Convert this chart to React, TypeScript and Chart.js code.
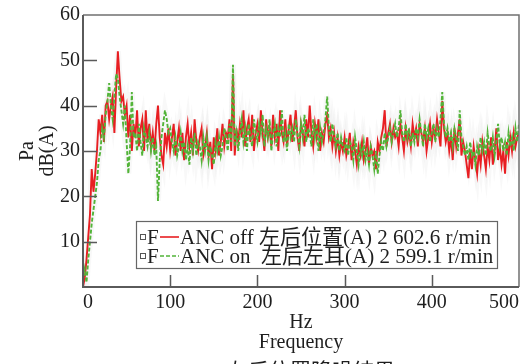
import React, { useEffect, useRef } from 'react';
import { Chart, registerables } from 'chart.js';

Chart.register(...registerables);

// ---- data ----
const X_TICKS = [0, 100, 200, 300, 400, 500];
const Y_TICKS = [10, 20, 30, 40, 50, 60];
const FREQ_STEP_HZ = 2; // sampling grid of the spectra (0..500 Hz)

// ANC off, 左后位置 (red, solid)
const ancOff = [
  0, 2, 6, 11, 16, 26, 21, 25, 30, 37,
  34, 38, 32, 40, 41, 37, 40, 42, 34, 44,
  52, 46, 41, 42, 38, 40, 33, 38, 30, 36,
  33, 39, 31, 35, 37, 30, 39, 32, 36, 31,
  34, 30, 36, 40, 33, 29, 27, 34, 31, 35,
  30, 33, 36, 29, 32, 35, 30, 34, 28, 33,
  36, 31, 34, 29, 37, 32, 30, 33, 35, 29,
  31, 34, 29, 32, 26, 33, 30, 35, 29, 32,
  36, 31, 34, 33, 37, 30, 47, 29, 35, 32,
  36, 33, 39, 31, 35, 37, 32, 38, 30, 34,
  36, 32, 39, 34, 30, 37, 33, 35, 31, 38,
  33, 36, 30, 39, 34, 32, 37, 31, 35, 38,
  32, 35, 39, 33, 30, 36, 34, 31, 37, 33,
  40, 34, 31, 36, 33, 37, 30, 34, 32, 36,
  38, 33, 35, 31, 34, 30, 33, 29, 32, 30,
  33, 29, 31, 34, 28, 32, 30, 27, 31, 29,
  32, 28, 30, 33, 27, 31, 29, 30, 26, 32,
  30, 33, 35, 39, 31, 34, 36, 32, 35, 33,
  34, 31, 36, 33, 30, 35, 32, 34, 31, 36,
  33, 35, 31, 36, 34, 32, 35, 30, 33, 36,
  32, 35, 33, 37, 34, 31, 41, 35, 32, 34,
  30, 33, 28, 35, 31, 34, 37, 29, 32, 30,
  27, 24, 30, 26, 31, 28, 25, 30, 27, 32,
  29, 26, 31, 28, 33, 27, 30, 35, 28, 31,
  27, 30, 25, 32, 29, 33, 30, 34, 31, 33,
  34,
];

// ANC on, 左后左耳 (green, dashed)
const ancOn = [
  2, 4, 1, 6, 10, 14, 17, 20, 23, 28,
  30, 35, 33, 38, 41, 45, 40, 37, 42, 47,
  46, 42, 39, 36, 40, 32, 25, 31, 43, 33,
  34, 30, 36, 32, 29, 35, 33, 31, 34, 30,
  33, 29, 31, 19, 28, 33, 36, 39, 37, 34,
  35, 32, 30, 33, 29, 31, 34, 30, 32, 28,
  31, 27, 33, 30, 34, 29, 32, 31, 28, 33,
  30, 33, 28, 31, 29, 27, 32, 30, 33, 29,
  31, 35, 33, 30, 36, 32, 49, 31, 34, 30,
  34, 37, 32, 35, 30, 36, 33, 31, 37, 34,
  32, 36, 34, 38, 31, 35, 33, 37, 30, 34,
  36, 31, 35, 33, 39, 32, 34, 30, 36, 33,
  35, 32, 37, 34, 31, 36, 33, 38, 32, 35,
  34, 31, 37, 33, 36, 30, 35, 32, 34, 37,
  42, 35, 32, 36, 33, 31, 34, 30, 33, 31,
  30, 33, 29, 32, 31, 28, 33, 30, 27, 31,
  29, 32, 28, 30, 27, 31, 29, 26, 30, 25,
  29, 32, 30, 34, 31, 33, 35, 32, 34, 36,
  33, 35, 39, 34, 32, 36, 33, 35, 31, 34,
  32, 35, 33, 37, 34, 31, 36, 33, 35, 32,
  34, 36, 32, 35, 33, 37, 43, 36, 33, 35,
  32, 34, 31, 35, 33, 30, 39, 33, 31, 29,
  31, 28, 32, 29, 30, 27, 31, 29, 33, 30,
  32, 29, 34, 31, 30, 33, 29, 32, 36, 31,
  33, 30, 32, 29, 34, 31, 33, 30, 35, 32,
  36,
];

const LEGEND_LABELS = [
  'ANC off 左后位置(A) 2 602.6 r/min',
  'ANC on  左后左耳(A) 2 599.1 r/min',
];
const LEGEND_PREFIX = 'F';
const X_TITLE = ['Hz', 'Frequency'];
const Y_TITLE = ['Pa', 'dB(A)'];
const CAPTION = '左后位置降噪结果';

const RED = 'rgb(232, 30, 34)';
const GREEN = 'rgb(82, 180, 56)';
const HALO = 'rgba(232, 232, 232, 0.3)';
const AXIS = '#5a5a5a';
const TEXT = '#1e1e1e';
const FONT_FAMILY = '"Liberation Serif", "Times New Roman", "Noto Sans CJK SC", serif';

const toPoints = (vals: number[]) => vals.map((v, i) => ({ x: i * FREQ_STEP_HZ, y: v }));

const decorPlugin = {
  id: 'decor',
  afterDraw(chart: any) {
    const { ctx, chartArea } = chart;
    const { left, right, top, bottom } = chartArea;
    const xs = chart.scales.x;
    const ys = chart.scales.y;
    ctx.save();
    // frame
    ctx.strokeStyle = '#707070';
    ctx.lineWidth = 1.5;
    ctx.beginPath();
    ctx.moveTo(left, top);
    ctx.lineTo(right, top);
    ctx.lineTo(right, bottom);
    ctx.stroke();
    ctx.strokeStyle = AXIS;
    ctx.lineWidth = 2;
    ctx.beginPath();
    ctx.moveTo(left, top);
    ctx.lineTo(left, bottom);
    ctx.lineTo(right, bottom);
    ctx.stroke();
    // inward ticks
    ctx.lineWidth = 1.5;
    ctx.strokeStyle = AXIS;
    ctx.beginPath();
    Y_TICKS.forEach((v) => {
      if (v >= 60) return;
      const y = Math.round(ys.getPixelForValue(v)) + 0.5;
      ctx.moveTo(left, y);
      ctx.lineTo(left + 14, y);
    });
    X_TICKS.forEach((v) => {
      if (v <= 0 || v >= 500) return;
      const x = Math.round(xs.getPixelForValue(v)) + 0.5;
      ctx.moveTo(x, bottom);
      ctx.lineTo(x, bottom - 12);
    });
    ctx.stroke();

    // legend box
    const bx = 136, by = 221, bw = 361, bh = 47;
    ctx.fillStyle = '#ffffff';
    ctx.fillRect(bx, by, bw, bh);
    ctx.strokeStyle = '#666666';
    ctx.lineWidth = 1.2;
    ctx.strokeRect(bx + 0.5, by + 0.5, bw, bh);
    const rows = [
      { y: 237, color: RED, dash: [] as number[] },
      { y: 256, color: GREEN, dash: [4, 2] },
    ];
    ctx.font = '21px ' + FONT_FAMILY;
    ctx.textBaseline = 'middle';
    ctx.textAlign = 'left';
    rows.forEach((r, i) => {
      ctx.strokeStyle = '#555';
      ctx.lineWidth = 1;
      ctx.setLineDash([]);
      ctx.strokeRect(140.5, r.y - 2.5, 5, 5);
      ctx.fillStyle = TEXT;
      ctx.fillText(LEGEND_PREFIX, 147, r.y + 1);
      ctx.strokeStyle = r.color;
      ctx.lineWidth = 1.6;
      ctx.setLineDash(r.dash);
      ctx.beginPath();
      ctx.moveTo(160, r.y);
      ctx.lineTo(179, r.y);
      ctx.stroke();
      ctx.setLineDash([]);
      ctx.fillStyle = TEXT;
      ctx.fillText(LEGEND_LABELS[i], 180, r.y + 1);
    });

    // caption (cut off at bottom of figure)
    ctx.font = '21px "Noto Sans CJK SC", serif';
    ctx.textBaseline = 'top';
    ctx.fillStyle = TEXT;
    ctx.fillText(CAPTION, 227, 360);
    ctx.restore();
  },
};

export default function App() {
  const ref = useRef<HTMLCanvasElement | null>(null);
  useEffect(() => {
    if (!ref.current) return;
    const font = { family: FONT_FAMILY, size: 20 };
    const chart = new Chart(ref.current, {
      type: 'line',
      data: {
        datasets: [
          {
            label: LEGEND_LABELS[0],
            data: toPoints(ancOff),
            borderColor: RED,
            borderWidth: 1.9,
            pointRadius: 0,
            tension: 0,
            order: 1,
          },
          {
            label: LEGEND_LABELS[1],
            data: toPoints(ancOn),
            borderColor: GREEN,
            borderWidth: 1.9,
            borderDash: [4, 2],
            pointRadius: 0,
            tension: 0,
            order: 0,
          },
          {
            label: 'halo-off',
            data: toPoints(ancOff),
            borderColor: HALO,
            borderWidth: 6,
            pointRadius: 0,
            tension: 0,
            order: 3,
          },
          {
            label: 'halo-on',
            data: toPoints(ancOn),
            borderColor: HALO,
            borderWidth: 6,
            pointRadius: 0,
            tension: 0,
            order: 2,
          },
        ],
      },
      options: {
        animation: false,
        responsive: false,
        layout: { padding: { top: 15, right: 6, left: 0, bottom: 0 } },
        plugins: { legend: { display: false }, tooltip: { enabled: false } },
        scales: {
          x: {
            type: 'linear',
            min: 0,
            max: 500,
            afterBuildTicks: (s: any) => { s.ticks = X_TICKS.map((v) => ({ value: v })); },
            afterFit: (s: any) => { s.height = 364 - 287; },
            grid: { display: false, drawTicks: false },
            border: { display: false },
            ticks: { align: 'inner', font, color: TEXT, padding: 4, maxRotation: 0 },
            title: {
              display: true,
              text: X_TITLE,
              font: { family: FONT_FAMILY, size: 20, lineHeight: 1.0 },
              color: TEXT,
              padding: { top: 0, bottom: 11 },
            },
          },
          y: {
            type: 'linear',
            min: 0,
            max: 60,
            afterBuildTicks: (s: any) => { s.ticks = Y_TICKS.map((v) => ({ value: v })); },
            afterFit: (s: any) => { s.width = 83; },
            grid: { display: false, drawTicks: false },
            border: { display: false },
            ticks: { font, color: TEXT, padding: 3 },
            title: {
              display: true,
              text: Y_TITLE,
              font: { family: FONT_FAMILY, size: 20, lineHeight: 1.0 },
              color: TEXT,
              padding: { top: 18, bottom: 0 },
            },
          },
        },
      },
      plugins: [decorPlugin],
    } as any);
    return () => chart.destroy();
  }, []);
  return (
    <div style={{ position: 'absolute', left: 0, top: 0, width: 525, height: 364, overflow: 'hidden', background: '#fff' }}>
      <canvas ref={ref} width={525} height={364} />
    </div>
  );
}
